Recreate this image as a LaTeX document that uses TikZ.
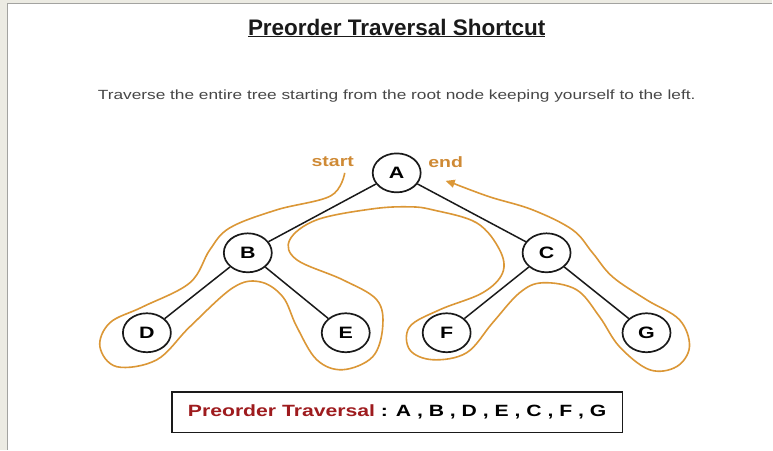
\documentclass[tikz,border=0pt]{standalone}
\usepackage{fontspec}
\setmainfont{Liberation Sans}
\newfontfamily\ptwide[FakeStretch=1.3]{Liberation Sans}
\usepackage{tikz}
\usetikzlibrary{arrows.meta,positioning,shapes.geometric}
\definecolor{ptpaper}  {HTML}{ECEBE3}
\definecolor{ptframe}  {HTML}{A3A3A0}
\definecolor{ptink}    {HTML}{1A1A1A}
\definecolor{ptgrey}   {HTML}{474747}
\definecolor{ptorange} {HTML}{DB9736}
\definecolor{ptamber}  {HTML}{CF8A35}
\definecolor{ptred}    {HTML}{9E1B1E}
\tikzset{
  ptnode/.style={ellipse, draw=ptink, fill=white, line width=1.7pt, inner sep=0pt,
                 minimum width=48pt, minimum height=39pt, font=\ptwide\bfseries\fontsize{16.5}{16.5}\selectfont},
  ptedge/.style={draw=ptink, line width=1.5pt},
  pttrail/.style={draw=ptorange, line width=1.6pt},
  ptlabel/.style={font=\ptwide\bfseries\fontsize{15}{15}\selectfont, text=ptamber, inner sep=0pt},
}
\begin{document}
\begin{tikzpicture}[x=1pt,y=-1pt]
  % page and panel
  \fill[ptpaper] (0,0) rectangle (773,450);
  \fill[white] (7,3) rectangle (773,450);
  \draw[ptframe, line width=1.2pt] (7.5,450) -- (7.5,3.5) -- (773,3.5);
  \useasboundingbox (0,0) rectangle (773,450);

  % headings
  \node[font=\bfseries\fontsize{22.5}{22.5}\selectfont, text=ptink, inner sep=0pt] (title) at (397,28)
    {\underline{Preorder Traversal Shortcut}};
  \node[font=\ptwide\fontsize{13.3}{13.3}\selectfont, text=ptgrey, inner sep=0pt] (intro) at (397,96)
    {Traverse the entire tree starting from the root node keeping yourself to the left.};

  % tree
  \node[ptnode] (A) at (397,173) {A};
  \node[ptnode] (B) at (248,253) {B};
  \node[ptnode] (C) at (547,253) {C};
  \node[ptnode] (D) at (147,333) {D};
  \node[ptnode] (E) at (346,333) {E};
  \node[ptnode] (F) at (447,333) {F};
  \node[ptnode] (G) at (647,333) {G};
  \draw[ptedge] (A) -- (B);
  \draw[ptedge] (A) -- (C);
  \draw[ptedge] (B) -- (D);
  \draw[ptedge] (B) -- (E);
  \draw[ptedge] (C) -- (F);
  \draw[ptedge] (C) -- (G);

  % walk around the tree
  \node[ptlabel] (start) at (333,162) {start};
  \node[ptlabel] (end) at (446,162) {end};
  \coordinate (walk0) at (345,173);
  \coordinate (walk1) at (446,181);
  \draw[pttrail] plot[smooth, tension=0.6] coordinates {
    (walk0) (331,196) (277,210) (230,228) (210,250) (190,283) (143,307) (110,323)
    (100,347) (117,367) (157,360) (190,327) (233,288) (260,282) (283,297) (297,327)
    (317,360) (343,370) (373,357) (383,327) (377,300) (343,280) (297,260) (290,240)
    (317,220) (373,209) (410,207) (433,210) (477,223) (500,250) (503,273) (483,293)
    (440,310) (410,327) (410,350) (433,360) (467,353) (493,323) (520,293) (543,283)
    (577,290) (600,317) (620,347) (650,370) (677,367) (690,347) (680,320) (647,300)
    (613,277) (593,253) (573,230) (533,210) (490,197) (455,184)};
  \draw[pttrail, -{Triangle[length=9pt,width=8pt]}] (455,184) -- (walk1);

  % result
  \node[draw=ptink, line width=1.6pt, minimum width=451pt, minimum height=41pt, inner sep=0pt,
        font=\ptwide\bfseries\fontsize{16.3}{16.3}\selectfont] (result) at (397.5,412.5)
    {\textcolor{ptred}{Preorder Traversal} : A , B , D , E , C , F , G};
\end{tikzpicture}
\end{document}
